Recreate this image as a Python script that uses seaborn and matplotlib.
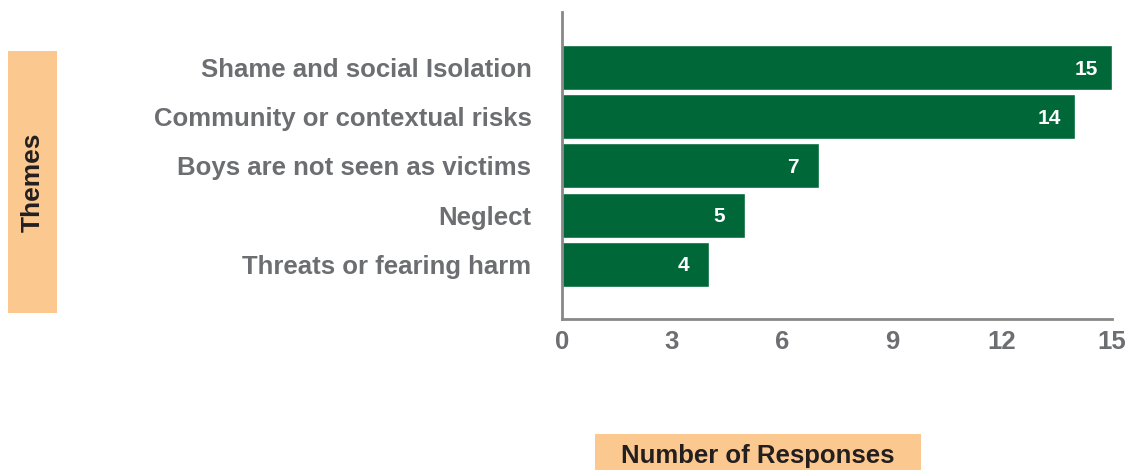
import matplotlib
matplotlib.use("Agg")
import matplotlib.pyplot as plt
import seaborn as sns
from matplotlib.patches import Rectangle

# data
themes = [
    "Shame and social Isolation",
    "Community or contextual risks",
    "Boys are not seen as victims",
    "Neglect",
    "Threats or fearing harm",
]
responses = [15, 14, 7, 5, 4]
x_ticks = [0, 3, 6, 9, 12, 15]

GREEN = "#006838"
GREY_TEXT = "#6d6e71"
DARK_TEXT = "#231f20"
ORANGE = "#fbc98f"

sns.set_style("white")
plt.rcParams["font.family"] = ["Liberation Sans", "DejaVu Sans"]

fig = plt.figure(figsize=(11.3, 4.7), dpi=100)
ax = fig.add_axes([0.4973, 0.3213, 0.4867, 0.6532])

sns.barplot(x=responses, y=themes, orient="h", color=GREEN, width=0.914,
            saturation=1, ax=ax)

# value labels sit inside the bar, near its end
for i, v in enumerate(responses):
    ax.text(v - 0.7, i + 0.03, str(v), ha="center", va="center", color="white",
            fontsize=15, fontweight="bold")

ax.set_xlim(0, 15)
ax.set_ylim(4 + 1.11, -1.13)
ax.set_xticks(x_ticks)
ax.set_xticklabels([str(t) for t in x_ticks], fontsize=18.5, fontweight="bold",
                   color=GREY_TEXT)
ax.set_yticks(range(len(themes)))
ax.set_yticklabels(themes, fontsize=18.5, fontweight="bold", color=GREY_TEXT)
ax.set_xlabel("")
ax.set_ylabel("")

ax.tick_params(axis="x", direction="in", length=6, width=1.8, color="black", pad=8)
ax.tick_params(axis="y", length=0, pad=22)

for side in ["top", "right"]:
    ax.spines[side].set_visible(False)
for side in ["left", "bottom"]:
    ax.spines[side].set_color("#888888")
    ax.spines[side].set_linewidth(2)

# orange title boxes
fig.patches.append(Rectangle((8 / 1130, 1 - 313 / 470), 49 / 1130, 262 / 470,
                             transform=fig.transFigure, facecolor=ORANGE,
                             edgecolor="none", zorder=0))
fig.text(33 / 1130, 1 - 182 / 470, "Themes", rotation=90, ha="center",
         va="center", fontsize=19, fontweight="bold", color=DARK_TEXT)

fig.patches.append(Rectangle((595 / 1130, 0), 326 / 1130, 36 / 470,
                             transform=fig.transFigure, facecolor=ORANGE,
                             edgecolor="none", zorder=0))
fig.text(758 / 1130, 14 / 470, "Number of Responses", ha="center",
         va="center", fontsize=18.5, fontweight="bold", color=DARK_TEXT)

fig.savefig("out.png", dpi=100)
